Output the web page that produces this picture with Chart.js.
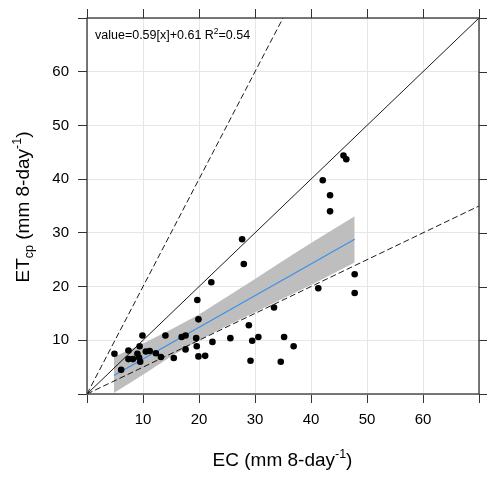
<!DOCTYPE html>
<html>
<head>
<meta charset="utf-8">
<script src="https://cdn.jsdelivr.net/npm/chart.js@4.4.1/dist/chart.umd.min.js"></script>
<style>
  html, body { margin: 0; padding: 0; background: #fff; }
  #wrap { width: 487px; height: 478px; }
</style>
</head>
<body>
<div id="wrap"><canvas id="chart" width="487" height="478"></canvas></div>
<script>
// EC (x) and ETcp (y) observations, mm 8-day^-1
const ecValues = [4.9, 6.1, 7.4, 7.4, 8.2, 9.4, 9.3, 9.5, 9.0, 9.9, 10.5, 11.2, 12.3, 13.2, 14.0, 15.5,
  16.9, 17.6, 17.6, 19.5, 19.7, 19.9, 19.6, 19.9, 21.1, 22.4, 22.2, 25.6, 27.7, 28.0, 28.9, 29.2,
  29.5, 30.6, 33.4, 34.6, 35.2, 36.9, 41.3, 42.1, 43.4, 43.4, 45.8, 46.3, 47.8, 47.8];
const etValues = [7.5, 4.5, 8.1, 6.5, 6.5, 8.9, 6.8, 6.0, 7.5, 10.9, 7.9, 8.0, 7.6, 6.9, 10.9, 6.7,
  10.6, 10.9, 8.3, 10.4, 17.5, 13.9, 8.9, 7.0, 7.1, 9.7, 20.8, 10.4, 28.8, 24.2, 12.8, 6.2,
  9.9, 10.6, 16.1, 6.0, 10.6, 8.9, 19.7, 39.8, 37.0, 34.0, 44.4, 43.7, 22.3, 18.8];

// fitted line and its confidence band
const fitX = [4.8, 47.8];
const fitY = [3.44, 28.81];
const bandX = [4.8, 10, 15, 20, 25, 30, 35, 40, 47.8];
const bandLow = [0.2, 3.6, 7.0, 10.0, 12.7, 15.2, 17.8, 20.3, 24.5];
const bandHigh = [6.9, 9.4, 12.0, 14.8, 18.1, 21.4, 24.8, 28.1, 33.1];

// reference lines 1:1, 2:1 and 1:2
const oneToOneX = [0, 70];
const oneToOneY = [0, 70];
const twoToOneX = [0, 35];
const twoToOneY = [0, 70];
const halfX = [0, 70];
const halfY = [0, 35];

const tickValues = [0, 10, 20, 30, 40, 50, 60, 70];
const tickLabels = ['', '10', '20', '30', '40', '50', '60', ''];

const fitLabel = 'value=0.59[x]+0.61 R';
const fitLabelSup = '2';
const fitLabelEnd = '=0.54';

const FONT = '"Liberation Sans", Arial, sans-serif';

function pts(xs, ys) {
  return xs.map((x, i) => ({ x: x, y: ys[i] }));
}

// draws a string made of parts with different sizes / offsets
function drawParts(ctx, parts, x, y) {
  let total = 0;
  parts.forEach(p => {
    ctx.font = p.size + 'px ' + FONT;
    p.w = ctx.measureText(p.t).width;
    total += p.w;
  });
  let cx = x - total / 2;
  ctx.textAlign = 'left';
  ctx.textBaseline = 'alphabetic';
  parts.forEach(p => {
    ctx.font = p.size + 'px ' + FONT;
    ctx.fillText(p.t, cx, y + (p.dy || 0));
    cx += p.w;
  });
}

const framePlugin = {
  id: 'frame',
  afterDraw(chart) {
    const ctx = chart.ctx;
    const a = chart.chartArea;
    const xs = chart.scales.x, ys = chart.scales.y;
    ctx.save();
    // panel box
    ctx.strokeStyle = '#333';
    ctx.lineWidth = 1.3;
    ctx.strokeRect(a.left, a.top, a.right - a.left, a.bottom - a.top);
    // top and right ticks
    ctx.lineWidth = 1;
    ctx.beginPath();
    tickValues.forEach(v => {
      const px = Math.round(xs.getPixelForValue(v)) + 0.5;
      ctx.moveTo(px, a.top);
      ctx.lineTo(px, a.top - 9);
      const py = Math.round(ys.getPixelForValue(v)) + 0.5;
      ctx.moveTo(a.right, py);
      ctx.lineTo(a.right + 9, py);
    });
    ctx.stroke();

    ctx.fillStyle = '#000';
    // fit annotation
    ctx.font = '12.5px ' + FONT;
    ctx.textAlign = 'left';
    ctx.textBaseline = 'alphabetic';
    let tx = 95;
    ctx.fillText(fitLabel, tx, 39);
    tx += ctx.measureText(fitLabel).width;
    ctx.font = '8.5px ' + FONT;
    ctx.fillText(fitLabelSup, tx, 34);
    tx += ctx.measureText(fitLabelSup).width;
    ctx.font = '12.5px ' + FONT;
    ctx.fillText(fitLabelEnd, tx, 39);

    // x title
    drawParts(ctx, [
      { t: 'EC (mm 8-day', size: 19 },
      { t: '-1', size: 12.5, dy: -8 },
      { t: ')', size: 19 }
    ], (a.left + a.right) / 2 - 0.5, 466);

    // y title
    ctx.translate(29, (a.top + a.bottom) / 2 + 1);
    ctx.rotate(-Math.PI / 2);
    drawParts(ctx, [
      { t: 'ET', size: 19 },
      { t: 'cp', size: 12.5, dy: 4 },
      { t: ' (mm 8-day', size: 19 },
      { t: '-1', size: 12.5, dy: -8 },
      { t: ')', size: 19 }
    ], 0, 0);
    ctx.restore();
  }
};

const axisCommon = {
  type: 'linear',
  min: 0,
  max: 70,
  afterBuildTicks: s => { s.ticks = tickValues.map(v => ({ value: v })); },
  border: { display: false },
  grid: {
    color: '#e6e6e6',
    lineWidth: 1,
    drawTicks: true,
    tickLength: 9,
    tickColor: '#333',
    tickWidth: 1
  },
  ticks: {
    color: '#000',
    font: { family: FONT, size: 15 },
    maxRotation: 0,
    autoSkip: false,
    callback: (v) => tickLabels[tickValues.indexOf(v)]
  }
};

new Chart(document.getElementById('chart'), {
  type: 'scatter',
  data: {
    datasets: [
      {
        label: 'band low',
        data: pts(bandX, bandLow),
        showLine: true,
        borderWidth: 0,
        borderColor: 'rgba(0,0,0,0)',
        pointRadius: 0,
        fill: false,
        order: 10
      },
      {
        label: 'band high',
        data: pts(bandX, bandHigh),
        showLine: true,
        borderWidth: 0,
        borderColor: 'rgba(0,0,0,0)',
        backgroundColor: '#bebebe',
        pointRadius: 0,
        fill: '-1',
        order: 9
      },
      {
        label: '1:1',
        data: pts(oneToOneX, oneToOneY),
        showLine: true,
        borderColor: '#000',
        borderWidth: 0.9,
        pointRadius: 0,
        order: 5
      },
      {
        label: '2:1',
        data: pts(twoToOneX, twoToOneY),
        showLine: true,
        borderColor: '#000',
        borderWidth: 0.9,
        borderDash: [6, 3],
        pointRadius: 0,
        order: 5
      },
      {
        label: '1:2',
        data: pts(halfX, halfY),
        showLine: true,
        borderColor: '#000',
        borderWidth: 0.9,
        borderDash: [6, 3],
        pointRadius: 0,
        order: 5
      },
      {
        label: 'fit',
        data: pts(fitX, fitY),
        showLine: true,
        borderColor: '#3a8fe8',
        borderWidth: 1.1,
        pointRadius: 0,
        order: 4
      },
      {
        label: 'ETcp',
        data: pts(ecValues, etValues),
        pointRadius: 3.3,
        pointBackgroundColor: '#000',
        pointBorderColor: '#000',
        pointBorderWidth: 0,
        order: 1
      }
    ]
  },
  options: {
    responsive: false,
    animation: false,
    devicePixelRatio: 1,
    layout: { padding: { top: 12, right: 7, left: 0, bottom: 0 } },
    plugins: {
      legend: { display: false },
      tooltip: { enabled: false }
    },
    scales: {
      x: Object.assign({}, axisCommon, {
        position: 'bottom',
        afterFit: s => { s.height = 84; },
        ticks: Object.assign({}, axisCommon.ticks, { padding: 8 })
      }),
      y: Object.assign({}, axisCommon, {
        position: 'left',
        afterFit: s => { s.width = 87; },
        ticks: Object.assign({}, axisCommon.ticks, { padding: 9 })
      })
    }
  },
  plugins: [framePlugin]
});
</script>
</body>
</html>
